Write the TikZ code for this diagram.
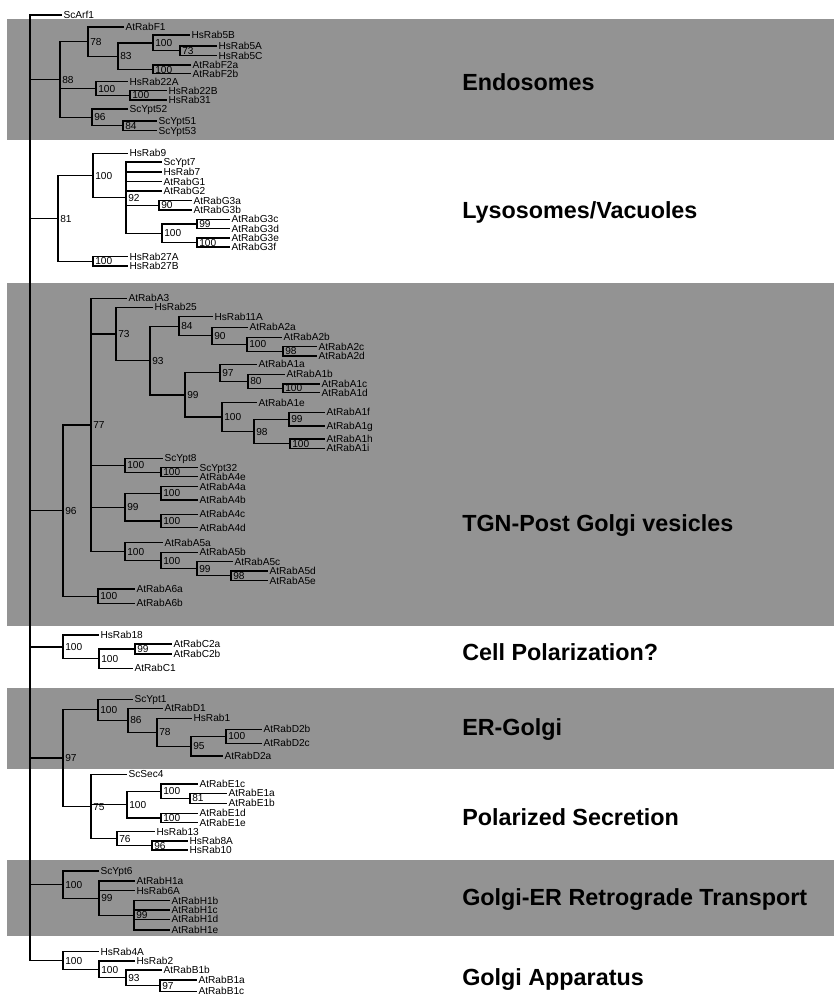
\documentclass[tikz,border=0pt]{standalone}
\usepackage{fontspec}
\setmainfont{Liberation Sans}
\usepackage{tikz}
\definecolor{bandgray}{HTML}{939393}
\tikzset{
  leaf/.style={anchor=west,inner xsep=1pt,inner ysep=0pt,text height=5.4pt,text depth=0pt},
  boot/.style={anchor=west,inner xsep=1.5pt,inner ysep=0pt,text height=5.4pt,text depth=0pt},
  group/.style={anchor=west,inner sep=0pt,text height=12.5pt,text depth=0pt,
    font=\fontsize{17.5}{20}\selectfont\bfseries},
  branch/.style={line width=.95pt}
}
% #1 name, #2 x, #3 top child, #4 bottom child, #5 support value
\newcommand{\clade}[5]{%
  \path (#3.center) -- (#4.center) coordinate[pos=.5] (#1m);
  \coordinate (#1x) at (#2,0);
  \coordinate (#1) at (#1x |- #1m);
  \draw[branch] (#1) |- (#3);
  \draw[branch] (#1) |- (#4);
  \node[boot] (#1b) at (#1) {#5};}

\begin{document}
\begin{tikzpicture}[x=.75pt,y=-.75pt,nodes={font=\fontsize{7.6}{9}\selectfont}]
\useasboundingbox (0,0) rectangle (834,997);
% shaded bands
\foreach \a/\b in {19/139.5,282.7/625.7,688.3/769.3,860/936}
  \fill[bandgray] (7,\a) rectangle (834,\b);

% leaves
\foreach \n/\x/\y in {ScArf1/62/15,AtRabF1/124/27,HsRab5B/190/35,HsRab5A/217/46,
  HsRab5C/217/55.5,AtRabF2a/191/65,AtRabF2b/191/73.8,HsRab22A/128/81.7,HsRab22B/167/90.7,
  HsRab31/167/100,ScYpt52/128/109,ScYpt51/157/121,ScYpt53/157/130.5}
  \node[leaf] (\n) at (\x,\y) {\n};
\foreach \n/\x/\y in {HsRab9/128/153.3,ScYpt7/162/162,HsRab7/162/172,AtRabG1/162/181.7,
  AtRabG2/162/191,AtRabG3a/192/200.7,AtRabG3b/192/210,AtRabG3c/230/219.3,AtRabG3d/230/228.6,
  AtRabG3e/230/237.9,AtRabG3f/230/246.9,HsRab27A/128/256.7,HsRab27B/128/266}
  \node[leaf] (\n) at (\x,\y) {\n};
\foreach \n/\x/\y in {AtRabA3/127/298.3,HsRab25/153/307.3,HsRab11A/213/316.7,
  AtRabA2a/248/327.3,AtRabA2b/282/337.3,AtRabA2c/317/346.7,AtRabA2d/317/356,
  AtRabA1a/257/364.3,AtRabA1b/285/374.3,AtRabA1c/320/384,AtRabA1d/320/392.7,
  AtRabA1e/257/402.7,AtRabA1f/325/412.3,AtRabA1g/325/426,AtRabA1h/325/439,
  AtRabA1i/325/448.3,ScYpt8/163/458.3,ScYpt32/198/467.7,AtRabA4e/198/476.7,
  AtRabA4a/198/486.7,AtRabA4b/198/500,AtRabA4c/198/514.3,AtRabA4d/198/527.7,
  AtRabA5a/163/542.7,AtRabA5b/198/552.3,AtRabA5c/233/561.7,AtRabA5d/268/571,
  AtRabA5e/268/580.7,AtRabA6a/135/589,AtRabA6b/135/603.3}
  \node[leaf] (\n) at (\x,\y) {\n};
\foreach \n/\x/\y in {HsRab18/99/635,AtRabC2a/172/644,AtRabC2b/172/654,AtRabC1/133/668.3,
  ScYpt1/133/699.3,AtRabD1/163/708.3,HsRab1/192/718.3,AtRabD2b/262/729.3,
  AtRabD2c/262/743.3,AtRabD2a/223/756,ScSec4/127/774.3,AtRabE1c/198/784,
  AtRabE1a/227/793.3,AtRabE1b/227/803.3,AtRabE1d/198/813.3,AtRabE1e/198/822.7,
  HsRab13/155/831.7,HsRab8A/188/841,HsRab10/188/850}
  \node[leaf] (\n) at (\x,\y) {\n};
\foreach \n/\x/\y in {ScYpt6/99/871,AtRabH1a/135/881,HsRab6A/135/890.7,AtRabH1b/170/900.7,
  AtRabH1c/170/910,AtRabH1d/170/919.3,AtRabH1e/170/930,HsRab4A/99/951.7,HsRab2/135/961,
  AtRabB1b/162/970,AtRabB1a/197/980,AtRabB1c/197/991.3}
  \node[leaf] (\n) at (\x,\y) {\n};

% endosomes
\clade{e73}{180}{HsRab5A}{HsRab5C}{73}
\clade{e100a}{153}{HsRab5B}{e73}{100}
\clade{e100b}{153}{AtRabF2a}{AtRabF2b}{100}
\clade{e83}{118}{e100a}{e100b}{83}
\clade{e78}{88}{AtRabF1}{e83}{78}
\clade{e100d}{130}{HsRab22B}{HsRab31}{100}
\clade{e100c}{96}{HsRab22A}{e100d}{100}
\clade{e84}{123}{ScYpt51}{ScYpt53}{84}
\clade{e96}{92}{ScYpt52}{e84}{96}
\clade{e88}{60}{e78}{e96}{88}
\draw[branch] (e88) |- (e100c);
% lysosomes
\clade{l90}{159}{AtRabG3a}{AtRabG3b}{90}
\clade{l99}{197}{AtRabG3c}{AtRabG3d}{99}
\clade{l100c}{197}{AtRabG3e}{AtRabG3f}{100}
\clade{l100b}{162}{l99}{l100c}{100}
\clade{l92}{126}{ScYpt7}{l100b}{92}
\foreach \c in {HsRab7,AtRabG1,AtRabG2,l90} \draw[branch] (l92) |- (\c);
\clade{l100a}{93}{HsRab9}{l92}{100}
\clade{l100d}{93}{HsRab27A}{HsRab27B}{100}
\clade{l81}{58}{l100a}{l100d}{81}
% TGN
\clade{t98a}{283}{AtRabA2c}{AtRabA2d}{98}
\clade{t100a}{247}{AtRabA2b}{t98a}{100}
\clade{t90}{212}{AtRabA2a}{t100a}{90}
\clade{t84}{179}{HsRab11A}{t90}{84}
\clade{t100b}{283}{AtRabA1c}{AtRabA1d}{100}
\clade{t80}{248}{AtRabA1b}{t100b}{80}
\clade{t97}{220}{AtRabA1a}{t80}{97}
\clade{t99a}{289}{AtRabA1f}{AtRabA1g}{99}
\clade{t100c}{290}{AtRabA1h}{AtRabA1i}{100}
\clade{t98b}{254}{t99a}{t100c}{98}
\clade{t100d}{222}{AtRabA1e}{t98b}{100}
\clade{t99b}{185}{t97}{t100d}{99}
\clade{t93}{150}{t84}{t99b}{93}
\clade{t73}{116}{HsRab25}{t93}{73}
\clade{t100f}{161}{ScYpt32}{AtRabA4e}{100}
\clade{t100e}{125}{ScYpt8}{t100f}{100}
\clade{t100g}{161}{AtRabA4a}{AtRabA4b}{100}
\clade{t100h}{161}{AtRabA4c}{AtRabA4d}{100}
\clade{t99c}{125}{t100g}{t100h}{99}
\clade{t98c}{231}{AtRabA5d}{AtRabA5e}{98}
\clade{t99d}{197}{AtRabA5c}{t98c}{99}
\clade{t100j}{161}{AtRabA5b}{t99d}{100}
\clade{t100i}{125}{AtRabA5a}{t100j}{100}
\clade{t77}{91}{AtRabA3}{t100i}{77}
\foreach \c in {t73,t100e,t99c} \draw[branch] (t77) |- (\c);
\clade{t100k}{98}{AtRabA6a}{AtRabA6b}{100}
\clade{t96}{63}{t77}{t100k}{96}
% cell polarization
\clade{c99}{135}{AtRabC2a}{AtRabC2b}{99}
\clade{c100b}{99}{c99}{AtRabC1}{100}
\clade{c100a}{63}{HsRab18}{c100b}{100}
% ER-Golgi and secretion
\clade{d100b}{226}{AtRabD2b}{AtRabD2c}{100}
\clade{d95}{191}{d100b}{AtRabD2a}{95}
\clade{d78}{157}{HsRab1}{d95}{78}
\clade{d86}{128}{AtRabD1}{d78}{86}
\clade{d100a}{98}{ScYpt1}{d86}{100}
\clade{p81}{190}{AtRabE1a}{AtRabE1b}{81}
\clade{p100b}{161}{AtRabE1c}{p81}{100}
\clade{p100c}{161}{AtRabE1d}{AtRabE1e}{100}
\clade{p100a}{127}{p100b}{p100c}{100}
\clade{p96}{152}{HsRab8A}{HsRab10}{96}
\clade{p76}{117}{HsRab13}{p96}{76}
\clade{p75}{91}{ScSec4}{p76}{75}
\draw[branch] (p75) |- (p100a);
\clade{d97}{63}{d100a}{p75}{97}
% Golgi-ER
\clade{h99b}{134}{AtRabH1b}{AtRabH1e}{99}
\foreach \c in {AtRabH1c,AtRabH1d} \draw[branch] (h99b) |- (\c);
\clade{h99a}{99}{AtRabH1a}{h99b}{99}
\draw[branch] (h99a) |- (HsRab6A);
\clade{h100}{63}{ScYpt6}{h99a}{100}
% Golgi
\clade{g97}{160}{AtRabB1a}{AtRabB1c}{97}
\clade{g93}{126}{AtRabB1b}{g97}{93}
\clade{g100b}{99}{HsRab2}{g93}{100}
\clade{g100a}{63}{HsRab4A}{g100b}{100}

% root
\path (ScArf1.center) -- (g100a) coordinate[pos=.5] (rootm);
\coordinate (rootx) at (30,0);
\coordinate (root) at (rootx |- rootm);
\foreach \c in {ScArf1,e88,l81,t96,c100a,d97,h100,g100a}
  \draw[branch,line width=1.2pt] (root) |- (\c);

% compartments
\node[group] (endo) at (462,81.7) {Endosomes};
\node[group] (lyso) at (462,210) {Lysosomes/Vacuoles};
\node[group] (tgn) at (462,523) {TGN-Post Golgi vesicles};
\node[group] (cpol) at (462,651.7) {Cell Polarization?};
\node[group] (ergo) at (462,727) {ER-Golgi};
\node[group] (psec) at (462,817) {Polarized Secretion};
\node[group] (gert) at (462,896.7) {Golgi-ER Retrograde Transport};
\node[group] (gapp) at (462,976.7) {Golgi Apparatus};
\end{tikzpicture}
\end{document}
